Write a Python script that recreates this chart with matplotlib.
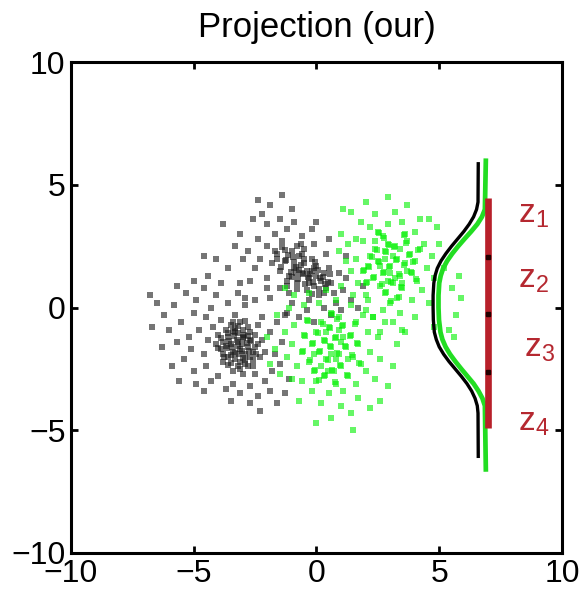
import matplotlib
matplotlib.use('Agg')
import matplotlib.pyplot as plt

plt.rcParams['font.family'] = ['Liberation Sans', 'DejaVu Sans']
plt.rcParams['mathtext.default'] = 'regular'

# black class, lower-left cloud
black_a_x = [-3.2, -3.0, -3.5, -2.8, -3.3, -3.6, -2.9, -3.1, -3.4, -2.7, -3.8, -3.0, -2.6, -3.3, -3.7,
             -2.5, -3.9, -2.9, -3.5, -2.4, -3.2, -4.0, -2.7, -3.6, -2.3, -3.1, -4.1, -2.8, -3.4, -2.6,
             -3.8, -4.2, -2.2, -3.0, -2.5, -3.9, -2.1, -4.4, -3.3, -2.4,
             -4.5, -4.8, -4.6, -5.0, -5.2, -4.3, -3.6, -2.9, -2.2, -1.9, -1.7, -1.8, -2.1, -2.7, -3.4,
             -4.0, -4.5, -5.1, -5.5, -5.7, -4.9, -4.1, -3.2, -2.5, -1.6, -1.4, -1.5, -1.9, -2.4, -3.1,
             -3.7, -4.3, -5.0, -5.4, -6.0, -6.2, -5.8, -5.3, -4.6, -3.9,
             -6.7, -6.5, -6.3, -5.7, -5.0, -4.4, -3.1, -1.2, -1.1, -1.6, -2.7, -3.5, -4.6, -5.9, -6.8,
             -2.0, -1.3, -4.9, -5.6, -2.3,
             -3.25, -3.05, -3.45, -2.95, -3.15, -3.55, -2.85, -3.35, -3.65, -2.75, -3.0, -3.3, -3.6, -2.9,
             -3.2, -3.5, -2.7, -3.8, -3.1, -3.4, -2.6, -3.7, -3.0, -3.3, -2.8, -3.9, -3.2, -2.5, -3.6,
             -3.1, -3.4, -2.9, -3.75, -2.65, -3.05, -3.5, -2.8, -3.2, -4.0, -2.45]
black_a_y = [-1.4, -1.2, -1.5, -1.6, -1.0, -1.2, -1.9, -1.7, -1.8, -1.3, -1.4, -0.9, -1.8, -2.1, -0.9,
             -1.1, -1.7, -2.3, -0.7, -1.5, -2.4, -1.1, -2.0, -2.0, -2.0, -0.6, -1.5, -0.8, -2.6, -2.4,
             -2.2, -0.8, -1.3, -2.7, -2.7, -0.5, -1.8, -1.3, -0.3, -0.7,
             -0.4, -0.9, -1.9, -0.2, -1.2, 0.0, 0.2, 0.1, -0.4, -1.0, -1.9, -2.6, -3.0, -3.2, -3.1,
             -2.8, -2.4, -1.7, -0.6, -1.4, 0.3, 0.5, 0.6, 0.3, -0.6, -1.4, -2.3, -3.4, -3.6, -3.5,
             -3.3, -3.0, -2.6, -2.1, -0.9, -0.3, 0.1, 0.6, 0.8, 1.0,
             -0.8, 0.2, -1.6, 0.9, 1.1, 1.3, 1.0, -0.2, -2.9, -3.9, -3.9, -3.8, -3.4, -2.4, 0.5,
             0.8, -3.5, -3.1, -3.0, -4.2,
             -1.3, -1.5, -1.6, -1.1, -1.9, -1.35, -1.45, -1.15, -1.65, -1.75, -2.05, -0.85, -1.05, -2.15,
             -0.75, -2.25, -1.0, -1.9, -2.5, -0.6, -2.15, -1.55, -1.25, -1.85, -2.4, -1.25, -1.05, -1.6, -2.35,
             -2.2, -0.95, -0.55, -2.0, -1.35, -1.75, -1.95, -1.15, -1.55, -1.65, -1.9]

# black class, upper-middle cloud
black_b_x = [-0.6, -0.3, -0.9, -0.1, -0.5, -1.1, -0.2, 0.2, -0.8, -1.3, -0.4, 0.0, -0.7, 0.4, -1.0,
             -1.5, 0.3, -0.2, -1.2, 0.6, -0.8, -1.6, 0.1, -0.5, 0.7, -1.8, -1.4, 0.5, -0.3, -1.1,
             -2.0, -1.7, -2.3, -1.2, -0.6, -0.1, 0.4, 0.9, 1.1, 0.8, 0.3, -0.4, -1.0, -1.5, -2.0,
             -2.5, -2.4, -2.0, -1.5, -0.9, -2.8, -2.2, 1.2, 1.4, -0.7, -1.9, -2.7, -3.0, -0.2, 0.5,
             -3.1, -2.6, -1.9, -1.0, -2.4, -1.4, -3.3, -3.6, -4.1, -4.6, 1.7, 1.9, 0.6, -0.1, 1.0,
             -1.3, -2.9, 0.0, 1.2, -3.8,
             -0.55, -0.35, -0.85, -0.15, -0.65, -1.05, -0.25, 0.15, -0.75, -1.25, -0.45, 0.05, -0.95, 0.35,
             -1.15, -1.45, 0.25, -0.05, -0.7, -0.4, -0.9, -1.3, 0.1, -0.6, 0.45, -1.6, -1.0, 0.55, -0.2,
             -0.8, -1.2, -0.5, -0.1, -1.4, 0.3, -0.3, -1.7, -0.65, 0.0, -0.85]
black_b_y = [1.4, 1.2, 1.6, 0.9, 1.8, 1.3, 1.5, 1.1, 1.0, 1.9, 0.7, 1.7, 2.1, 0.8, 2.3,
             1.5, 1.4, 2.0, 0.9, 1.0, 2.5, 2.2, 0.5, 2.4, 0.6, 1.8, 2.7, 1.6, 0.3, 0.6,
             2.5, 3.0, 2.0, 3.2, 2.9, 2.6, 2.2, 1.4, 0.7, 0.2, 0.0, -0.1, 0.2, 0.8, 1.2,
             1.6, 2.8, 3.4, 3.6, 3.5, 2.3, 3.8, 1.2, 0.3, -0.4, 0.4, 1.1, 2.0, 3.2, 2.8,
             3.0, 3.6, 4.2, 4.0, 4.4, 4.6, 2.5, 1.6, 2.0, 2.1, 0.0, 0.9, -0.3, -0.6, -0.1,
             -0.3, 0.4, 3.5, 2.1, 3.4,
             1.35, 1.25, 1.65, 1.05, 1.75, 1.45, 1.35, 1.2, 1.15, 1.95, 0.95, 1.55, 2.05, 0.95,
             2.15, 1.65, 1.25, 1.85, 1.55, 1.5, 1.85, 2.35, 0.75, 2.2, 1.05, 2.0, 1.25, 1.35, 0.55,
             0.75, 1.1, 2.0, 1.6, 2.45, 0.6, 1.0, 2.3, 2.6, 1.3, 1.4]

# green class, lower-centre cloud
green_c_x = [0.6, 0.3, 0.9, 0.1, 0.8, 1.2, 0.4, 0.0, 1.0, -0.2, 1.4, 0.5, 0.7, 1.5, -0.3,
             0.2, 1.1, -0.5, 1.7, 0.3, 0.9, -0.1, 1.3, -0.6, 1.8, 0.6, -0.4, 0.0, 1.6, 0.8,
             -0.9, -1.0, -0.8, -0.6, -0.2, 0.5, 1.1, 1.6, 2.0, 2.2, 2.1, 1.9, 1.4, 0.8, 0.1,
             -0.5, -1.1, -1.3, -1.2, -1.0, 0.2, 1.0, 1.7, 2.4, 2.6, 2.5, 2.3, -0.3, 0.4, -0.9,
             -1.6, -1.7, -1.5, -0.7, 0.6, 1.4, 1.5, 2.2, 2.9, 3.1, 3.3, 2.8, 1.0, -1.3, -2.0,
             0.0, 2.6, 3.5, -1.9, 2.0,
             0.55, 0.35, 0.85, 0.15, 0.75, 1.15, 0.45, 0.05, 0.95, -0.15, 1.35, 0.55, 0.65, 1.45,
             -0.25, 0.25, 1.05, -0.45, 1.65, 0.35, 0.85, -0.05, 1.25, -0.55, 1.75, 0.65, -0.35, 0.1,
             1.55, 0.75, 0.4, 1.0, 0.2, 1.3, 0.6, 0.9, -0.1, 1.1, 0.45, 0.8]
green_c_y = [-1.6, -1.3, -1.9, -1.8, -1.2, -1.6, -2.1, -1.0, -2.4, -1.5, -1.1, -0.8, -2.6, -2.0, -2.2,
             -0.6, -0.7, -1.1, -1.5, -2.8, -0.4, -2.6, -2.8, -1.8, -2.3, -0.2, -0.5, -3.0, -0.6, -3.1,
             -0.7, -1.5, -2.4, -3.0, -3.4, -3.5, -3.4, -3.1, -2.6, -1.8, -1.0, -0.3, 0.1, 0.3, 0.2,
             0.1, 0.0, -1.0, -2.0, -2.9, -3.9, -4.0, -3.7, -2.9, -2.1, -1.2, -0.4, 0.6, 0.7, 0.5,
             -0.3, -1.7, -2.7, -3.8, -4.5, -4.3, -5.0, -4.1, -3.2, -2.4, -1.5, -0.6, 0.9, 0.8, -1.2,
             -4.7, -3.8, -0.9, -2.3, 0.5,
             -1.55, -1.35, -1.85, -1.75, -1.25, -1.55, -2.15, -1.05, -2.35, -1.45, -1.15, -0.85, -2.55, -1.95,
             -2.15, -0.65, -0.75, -1.15, -1.45, -2.75, -0.45, -2.55, -2.75, -1.75, -2.25, -0.25, -0.55, -2.95,
             -0.65, -3.05, -1.0, -1.4, -2.4, -2.1, -1.9, -0.9, -1.9, -1.2, -2.6, -2.1]

# green class, upper-right cloud
green_d_x = [3.0, 2.7, 3.3, 2.5, 3.4, 2.8, 3.6, 2.3, 3.1, 2.9, 3.8, 2.1, 3.5, 2.6, 3.2,
             3.9, 2.4, 4.0, 2.0, 3.7, 2.8, 3.3, 4.1, 2.2, 3.6, 2.7, 4.2, 1.9, 3.0, 2.5,
             1.6, 1.7, 1.9, 2.2, 2.9, 3.5, 4.0, 4.4, 4.5, 4.3, 3.9, 3.4, 2.7, 2.1, 1.5,
             1.4, 1.6, 2.4, 3.2, 4.7, 4.6, 4.0, 3.1, 2.3, 1.2, 1.3, 4.8, 4.2, 1.8, 2.0,
             1.0, 1.4, 2.0, 2.9, 3.7, 4.6, 5.0, 5.2, 5.5, 5.7, 5.4, 4.8, 3.6, 5.9, 1.1,
             5.6, 4.9, 2.6, 0.9, 5.8,
             2.95, 2.75, 3.25, 2.55, 3.35, 2.85, 3.55, 2.35, 3.05, 2.95, 3.75, 2.15, 3.45, 2.65,
             3.15, 3.85, 2.45, 3.95, 2.05, 3.65, 2.85, 3.35, 4.05, 2.25, 3.55, 2.75, 4.15, 1.95,
             3.05, 2.55, 3.2, 2.6, 3.4, 2.9, 3.7, 2.4, 3.1, 2.8, 3.5, 3.0]
green_d_y = [1.7, 1.4, 2.0, 1.9, 1.3, 2.3, 1.8, 1.2, 1.0, 2.6, 2.2, 1.7, 0.8, 0.9, 2.5,
             1.4, 2.4, 1.9, 1.0, 2.7, 0.6, 0.4, 1.1, 2.1, 3.0, 2.9, 2.4, 1.5, 0.2, 3.1,
             2.0, 1.0, 2.7, 3.3, 3.4, 3.5, 3.1, 2.6, 1.6, 0.7, 0.3, -0.2, -0.1, 0.3, 0.5,
             1.5, 2.8, 3.8, 3.9, 2.1, 0.2, -0.4, -0.6, -0.4, 1.9, 2.6, 1.2, 3.6, 3.5, -0.1,
             3.0, 3.9, 4.3, 4.5, 4.2, 3.6, 2.6, 1.6, 0.8, -0.3, -0.9, -0.8, -1.0, 0.4, 4.0,
             -1.2, 3.3, -1.0, 2.3, 1.3,
             1.65, 1.45, 1.95, 1.85, 1.35, 2.25, 1.75, 1.25, 1.05, 2.55, 2.15, 1.65, 0.85, 0.95,
             2.45, 1.45, 2.35, 1.85, 1.05, 2.65, 0.65, 0.45, 1.15, 2.05, 2.95, 2.85, 2.35, 1.55,
             0.25, 3.05, 1.2, 1.7, 2.4, 1.1, 1.5, 2.7, 2.1, 2.0, 1.0, 1.4]

# projected densities drawn at the right (x as function of y)
black_curve_y = [5.93, 4.3, 4.0, 3.7, 3.4, 3.1, 2.8, 2.5, 2.2, 1.9, 1.6, 1.3, 1.0, 0.5, 0.0,
                 -0.5, -1.0, -1.3, -1.6, -1.9, -2.2, -2.5, -2.8, -3.1, -3.4, -3.7, -4.0, -4.3, -6.13]
black_curve_x = [6.59, 6.58, 6.52, 6.40, 6.22, 6.00, 5.75, 5.50, 5.27, 5.07, 4.92, 4.83, 4.78, 4.75, 4.75,
                 4.76, 4.80, 4.88, 5.00, 5.18, 5.40, 5.65, 5.90, 6.13, 6.32, 6.46, 6.55, 6.58, 6.59]
green_curve_y = [6.08, 4.0, 3.7, 3.4, 3.1, 2.8, 2.5, 2.2, 1.9, 1.6, 1.3, 1.0, 0.5, 0.0,
                 -0.5, -1.0, -1.3, -1.6, -1.9, -2.2, -2.5, -2.8, -3.1, -3.4, -3.7, -4.0, -6.69]
green_curve_x = [6.90, 6.86, 6.74, 6.55, 6.30, 6.03, 5.77, 5.53, 5.32, 5.16, 5.06, 5.00, 4.97, 4.97,
                 4.99, 5.05, 5.13, 5.26, 5.44, 5.66, 5.90, 6.15, 6.40, 6.60, 6.76, 6.86, 6.90]

# quantised axis
bar_x = 7.0
bar_y = [4.45, -4.9]
split_y = [2.06, -0.27, -2.63]
z_labels = ['$z_1$', '$z_2$', '$z_3$', '$z_4$']
z_label_x = [8.2, 8.2, 8.45, 8.2]
z_label_y = [3.48, 0.8, -2.0, -5.0]

fig = plt.figure(figsize=(5.79, 5.92), dpi=100)
ax = fig.add_axes([0.1226, 0.0659, 0.848, 0.829])

for xs, ys in [(black_a_x, black_a_y), (black_b_x, black_b_y)]:
    ax.scatter(xs, ys, s=15, marker='s', color='#1a1a1a', alpha=0.6, linewidths=0)
for xs, ys in [(green_c_x, green_c_y), (green_d_x, green_d_y)]:
    ax.scatter(xs, ys, s=15, marker='s', color='#00f000', alpha=0.6, linewidths=0)

ax.plot(black_curve_x, black_curve_y, color='black', lw=2.4, solid_capstyle='butt')
ax.plot(green_curve_x, green_curve_y, color='#22dd22', lw=3.4, solid_capstyle='butt')

ax.plot([bar_x, bar_x], bar_y, color='#b8202a', lw=4.8, solid_capstyle='butt')
ax.plot([bar_x] * len(split_y), split_y, 's', color='#220000', ms=3.5)

for lab, lx, ly in zip(z_labels, z_label_x, z_label_y):
    ax.text(lx, ly, lab, color='#b52830', fontsize=24, ha='left', va='baseline')

ax.set_xlim(-10, 10)
ax.set_ylim(-10, 10)
ax.set_xticks([-10, -5, 0, 5, 10])
ax.set_yticks([-10, -5, 0, 5, 10])
ax.tick_params(direction='in', length=5, width=2, labelsize=23, pad=4,
               top=True, right=True)
for sp in ax.spines.values():
    sp.set_linewidth(2.2)

ax.set_title('Projection (our)', fontsize=25, pad=18)

fig.savefig('out.png', dpi=100)
